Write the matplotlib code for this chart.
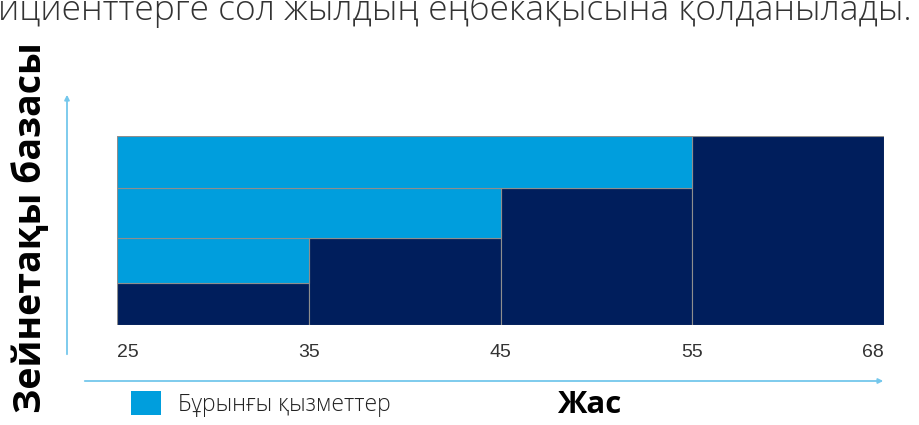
import matplotlib
matplotlib.use("Agg")
import matplotlib.pyplot as plt
from matplotlib.patches import Patch

# ages on the x axis (column boundaries)
ages = ["25", "35", "45", "55", "68"]
# row levels of the pension base (share of max, %)
levels = [0, 22, 46, 72.5, 100]
# how many levels the dark part of each column reaches
darkTop = [1, 2, 3, 4]
legendLabel = "Бұрынғы қызметтер"
xLabel = "Жас"
yLabel = "Зейнетақы базасы"
topLine = "ициенттерге сол жылдың еңбекақысына қолданылады."

light = "#009edd"
dark = "#001e5c"
edge = "#8e8e8e"
arrowCol = "#74c7ec"
sans = ["Open Sans", "DejaVu Sans"]

fig = plt.figure(figsize = (9.19, 4.25), dpi = 100)
W, H = 919, 425
ax = fig.add_axes([117 / W, 1 - 325 / H, (884 - 117) / W, (325 - 136) / H])

# dark columns: earnings of the current year
for i, top in enumerate(darkTop):
	ax.bar(i, levels[top], width = 1, align = "edge", bottom = 0,
		color = dark, edgecolor = edge, linewidth = 0.8)

# light rows: earlier service, each row runs from the left up to its dark column
for j in range(1, len(levels) - 1):
	ax.bar(0, levels[j + 1] - levels[j], width = j, align = "edge", bottom = levels[j],
		color = light, edgecolor = edge, linewidth = 0.8)

ax.set_xlim(0, len(ages) - 1)
ax.set_ylim(0, 100)
ax.set_yticks([])
ax.set_xticks(range(len(ages)), labels = ages)
ax.tick_params(axis = "x", length = 0, pad = 14, labelsize = 14, labelcolor = "#333333")
for t in ax.get_xticklabels():
	t.set_family(["Liberation Sans", "DejaVu Sans"])
ax.get_xticklabels()[0].set_ha("left")
ax.get_xticklabels()[-1].set_ha("right")
for s in ax.spines.values():
	s.set_visible(False)

# axis arrows
ax.annotate("", xy = (886 / W, 1 - 381 / H), xytext = (82 / W, 1 - 381 / H),
	xycoords = "figure fraction", textcoords = "figure fraction",
	arrowprops = dict(arrowstyle = "-|>", color = arrowCol, lw = 1.3, mutation_scale = 7))
ax.annotate("", xy = (67 / W, 1 - 92 / H), xytext = (67 / W, 1 - 357 / H),
	xycoords = "figure fraction", textcoords = "figure fraction",
	arrowprops = dict(arrowstyle = "-|>", color = arrowCol, lw = 1.3, mutation_scale = 7))

fig.text(31 / W, 1 - 228 / H, yLabel, rotation = 90, ha = "center", va = "center",
	fontsize = 27, fontweight = "bold", fontstyle = "normal", family = sans, color = "black")
fig.text(557 / W, 1 - 413 / H, xLabel, ha = "left", va = "baseline",
	fontsize = 22.5, fontweight = "bold", fontstyle = "normal", family = sans, color = "black")

fig.legend(handles = [Patch(facecolor = light, edgecolor = "none")], labels = [legendLabel],
	loc = "center left", bbox_to_anchor = (131 / W, 1 - 404 / H), frameon = False,
	handlelength = 1.3, handleheight = 1.25, handletextpad = 0.75, borderaxespad = 0,
	borderpad = 0, prop = dict(family = sans, size = 16.5, weight = "light"))
for t in fig.legends[0].get_texts():
	t.set_color("#222222")

fig.text(-2 / W, 1 - 20 / H, topLine, ha = "left", va = "baseline",
	fontsize = 25.5, family = sans, weight = "light", color = "#333333")

fig.savefig("out.png", dpi = 100)
